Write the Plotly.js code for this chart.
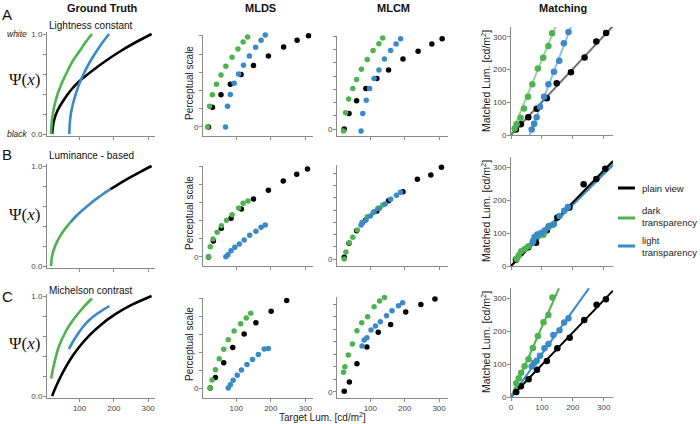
<!DOCTYPE html>
<html><head><meta charset="utf-8">
<script src="https://cdn.plot.ly/plotly-3.0.1.min.js"></script>
<style>html,body{margin:0;padding:0;background:#fff}#chart{width:700px;height:424px}</style>
</head><body><div id="chart"></div>
<script>
// ---------- Ground truth curves ----------
const gtA_black_x=[20,25,35,50,75,100,140,180,220,260,310];
const gtA_black_y=[0,0.13,0.23,0.32,0.44,0.53,0.64,0.74,0.83,0.91,1.0];
const gtA_green_x=[17,19,22,27,35,47,62,80,100,118,136];
const gtA_green_y=[0,0.13,0.2,0.29,0.39,0.5,0.61,0.73,0.83,0.92,1.0];
const gtA_blue_x=[70,72,75,80,88,99,113,130,150,168,186];
const gtA_blue_y=[0,0.13,0.21,0.29,0.39,0.5,0.61,0.72,0.83,0.92,1.0];

const gtB_green_x=[17,18,20,25,32,42,55,73];
const gtB_green_y=[0,0.06,0.10,0.165,0.226,0.292,0.36,0.437];
const gtB_blue_x=[73,90,110,130,150,170,190];
const gtB_blue_y=[0.437,0.5,0.563,0.621,0.674,0.723,0.768];
const gtB_black_x=[190,220,250,280,310];
const gtB_black_y=[0.768,0.832,0.892,0.947,1.0];

const gtC_black_x=[20,30,45,60,80,100,130,160,200,250,310];
const gtC_black_y=[0,0.084,0.195,0.292,0.402,0.495,0.611,0.706,0.808,0.908,1.0];
const gtC_green_x=[17,25,39,59,78,102,120,136];
const gtC_green_y=[0.175,0.31,0.49,0.64,0.745,0.85,0.92,0.975];
const gtC_blue_x=[69,80,95,112,130,150,170,187];
const gtC_blue_y=[0.47,0.54,0.62,0.70,0.765,0.82,0.865,0.90];

// ---------- MLDS ----------
const mldsA_black_x=[20,31,56,83,114,150,193,237,276,309];
const mldsA_black_y=[0,0.216,0.352,0.469,0.575,0.674,0.78,0.879,0.953,1.003];
const mldsA_green_x=[17,23,31,43,56,70,88,105,120,133];
const mldsA_green_y=[0,0.226,0.352,0.469,0.571,0.667,0.766,0.857,0.934,0.989];
const mldsA_blue_x=[69,75,83,94,107,121,138,156,172,184];
const mldsA_blue_y=[0,0.226,0.355,0.48,0.582,0.678,0.78,0.876,0.953,1.01];

const mldsB_black_x=[20,34,57,85,115,150,193,236,275,306];
const mldsB_black_y=[0,0.178,0.319,0.43,0.533,0.644,0.741,0.844,0.919,0.978];
const mldsB_green_x=[20,25,33,45,57,72,88,107,120,134];
const mldsB_green_y=[0.003,0.114,0.2,0.274,0.348,0.408,0.47,0.544,0.597,0.622];
const mldsB_blue_x=[70,76,85,96,109,123,139,157,172,184];
const mldsB_blue_y=[0.003,0.026,0.07,0.108,0.144,0.189,0.241,0.286,0.33,0.356];

const mldsC_black_x=[25,40,64,90,123,157,201,246,285,316];
const mldsC_black_y=[0,0.116,0.281,0.449,0.599,0.726,0.854,0.973,1.048,1.093];
const mldsC_green_x=[25,30,40,51,64,77,94,113,129,142];
const mldsC_green_y=[0,0.09,0.202,0.326,0.43,0.535,0.633,0.715,0.779,0.831];
const mldsC_blue_x=[77,83,91,103,115,131,147,164,181,193];
const mldsC_blue_y=[0,0.037,0.085,0.143,0.199,0.262,0.318,0.371,0.434,0.44];

// ---------- MLCM ----------
const mlcmA_black_x=[24,38,60,87,119,153,195,239,279,309];
const mlcmA_black_y=[0,1.18,2.13,3.06,3.81,4.46,5.29,5.86,6.41,6.82];
const mlcmA_green_x=[22,28,37,49,60,74,91,108,125,136];
const mlcmA_green_y=[-0.15,1.23,2.26,3.06,3.74,4.51,5.24,5.92,6.44,6.86];
const mlcmA_blue_x=[73,78,88,98,111,125,141,159,175,188];
const mlcmA_blue_y=[-0.15,1.18,2.18,3.06,3.81,4.46,5.29,5.92,6.41,6.82];

const mlcmB_black_x=[24,38,60,86,119,153,195,237,276,307];
const mlcmB_black_y=[0.14,1.28,2.3,3.19,3.92,4.76,5.5,6.51,6.86,7.49];
const mlcmB_green_x=[24,29,39,49,62,76,91,108,122,136];
const mlcmB_green_y=[0,0.57,1.33,1.77,2.37,3.0,3.46,3.78,4.14,4.41];
const mlcmB_blue_x=[73,78,87,100,111,127,143,159,176,188];
const mlcmB_blue_y=[2.78,2.97,3.19,3.51,3.86,4.14,4.49,4.88,5.2,5.45];

const mlcmC_black_x=[24,39,61,90,123,159,203,247,288,321];
const mlcmC_black_y=[0.03,0.78,2.24,3.58,4.75,5.39,6.38,6.99,7.42,7.79];
const mlcmC_green_x=[22,26,36,48,61,75,92,111,127,141];
const mlcmC_green_y=[1.55,2.0,2.94,3.82,4.88,5.52,6.0,6.8,7.26,7.55];
const mlcmC_blue_x=[76,82,90,102,115,129,147,163,182,194];
const mlcmC_blue_y=[3.66,4.14,4.32,4.94,5.26,5.6,6.08,6.48,6.88,7.12];

// ---------- Matching ----------
const matA_black_x=[16,32,56,83,116,148,194,238,276,308];
const matA_black_y=[17,33,54,80,112,158,192,237,286,312];
const matA_green_x=[12,18,31,42,55,69,87,104,121,133];
const matA_green_y=[20,33,53,81,117,155,203,236,272,311];
const matA_blue_x=[67,75,83,94,107,121,139,156,171,186];
const matA_blue_y=[17,34,54,86,117,155,193,227,280,315];
const fitA_black_x=[0,330], fitA_black_y=[0,333];
const fitA_green_x=[0,145], fitA_green_y=[0,333];
const fitA_blue_x=[60,195], fitA_blue_y=[0,333];

const matB_black_x=[16,32,56,81,116,150,189,235,276,305];
const matB_black_y=[20,39,57,71,109,148,178,249,265,296];
const matB_green_x=[18,25,33,45,57,72,88,105,120,134];
const matB_green_y=[22,32,45,52,60,78,92,95,118,125];
const matB_blue_x=[70,76,85,96,109,123,139,157,172,184];
const matB_blue_y=[72,88,96,100,108,122,128,152,168,180];
const fitB_black_x=[0,330], fitB_black_y=[0,320];
const fitB_green_x=[0,330], fitB_green_y=[0,314];
const fitB_blue_x=[0,330], fitB_blue_y=[0,307];

const matC_black_x=[17,32,57,84,116,150,190,237,277,307];
const matC_black_y=[15,33,54,83,109,148,180,234,280,297];
const matC_green_x=[17,25,33,44,57,71,87,105,121,134];
const matC_green_y=[42,57,74,93,115,149,185,227,249,302];
const matC_blue_x=[67,75,83,94,108,121,137,157,172,186];
const matC_blue_y=[93,103,110,125,148,161,188,203,226,239];
const fitC_black_x=[0,330], fitC_black_y=[0,323];
const fitC_green_x=[0,155], fitC_green_y=[0,330];
const fitC_blue_x=[0,252], fitC_blue_y=[0,330];

// ---------- text ----------
const colTitles=['Ground Truth','MLDS','MLCM','Matching'];
const rowLetters=['A','B','C'];
const rowSubtitles=['Lightness constant','Luminance - based','Michelson contrast'];
const legendLabels=['plain view','dark<br>transparency','light<br>transparency'];
const xTickVals=[100,200,300];
const matchTickVals=[0,100,200,300];

// ---------- styling / layout ----------
const W=700,H=424;
const C_BLACK='#000000', C_GREEN='#4db34f', C_BLUE='#3a89c9';
const FONT='Liberation Sans, Arial, sans-serif';
const colX=[[47,155],[203,313],[337,448],[511,613]];
const boxY=[
  [[32,136],[35,136],[36,136],[27,135]],
  [[164,268],[166,266],[165,266],[157,266]],
  [[294,398],[298,398],[297,398],[288,397]]
];
const yRanges=[
  [[-0.02,1.02],[-0.1,1.01],[-0.526,7.02],[0,330]],
  [[-0.02,1.02],[-0.1,1.01],[-0.57,7.68],[0,332]],
  [[-0.02,1.02],[-0.111,1.0],[-0.5,7.58],[0,331]]
];
const xRanges=[[5,320],[4,322],[3,326],[0,330]];

function sfx(r,c){const i=r*4+c+1;return i===1?'':String(i);}
const traces=[];
function lineTrace(r,c,x,y,color,width,shape,opacity){
  traces.push({x:x,y:y,xaxis:'x'+sfx(r,c),yaxis:'y'+sfx(r,c),mode:'lines',
    line:{color:color,width:width,shape:shape||'linear',smoothing:0.8},opacity:opacity==null?1:opacity,
    hoverinfo:'skip',showlegend:false});
}
function dotTrace(r,c,x,y,color,size){
  traces.push({x:x,y:y,xaxis:'x'+sfx(r,c),yaxis:'y'+sfx(r,c),mode:'markers',
    marker:{color:color,size:size,line:{width:0}},cliponaxis:false,hoverinfo:'skip',showlegend:false});
}

// ground truth
lineTrace(0,0,gtA_black_x,gtA_black_y,C_BLACK,2.6,'spline');
lineTrace(0,0,gtA_green_x,gtA_green_y,C_GREEN,2.6,'spline');
lineTrace(0,0,gtA_blue_x,gtA_blue_y,C_BLUE,2.6,'spline');
lineTrace(1,0,gtB_green_x,gtB_green_y,C_GREEN,2.6,'spline');
lineTrace(1,0,gtB_blue_x,gtB_blue_y,C_BLUE,2.6,'spline');
lineTrace(1,0,gtB_black_x,gtB_black_y,C_BLACK,2.6,'spline');
lineTrace(2,0,gtC_black_x,gtC_black_y,C_BLACK,2.6,'spline');
lineTrace(2,0,gtC_green_x,gtC_green_y,C_GREEN,2.6,'spline');
lineTrace(2,0,gtC_blue_x,gtC_blue_y,C_BLUE,2.6,'spline');

// MLDS
const DS=5.5;
dotTrace(0,1,mldsA_black_x,mldsA_black_y,C_BLACK,DS);
dotTrace(0,1,mldsA_green_x,mldsA_green_y,C_GREEN,DS);
dotTrace(0,1,mldsA_blue_x,mldsA_blue_y,C_BLUE,DS);
dotTrace(1,1,mldsB_black_x,mldsB_black_y,C_BLACK,DS);
dotTrace(1,1,mldsB_green_x,mldsB_green_y,C_GREEN,DS);
dotTrace(1,1,mldsB_blue_x,mldsB_blue_y,C_BLUE,DS);
dotTrace(2,1,mldsC_black_x,mldsC_black_y,C_BLACK,DS);
dotTrace(2,1,mldsC_green_x,mldsC_green_y,C_GREEN,DS);
dotTrace(2,1,mldsC_blue_x,mldsC_blue_y,C_BLUE,DS);
// MLCM
dotTrace(0,2,mlcmA_black_x,mlcmA_black_y,C_BLACK,DS);
dotTrace(0,2,mlcmA_green_x,mlcmA_green_y,C_GREEN,DS);
dotTrace(0,2,mlcmA_blue_x,mlcmA_blue_y,C_BLUE,DS);
dotTrace(1,2,mlcmB_black_x,mlcmB_black_y,C_BLACK,DS);
dotTrace(1,2,mlcmB_green_x,mlcmB_green_y,C_GREEN,DS);
dotTrace(1,2,mlcmB_blue_x,mlcmB_blue_y,C_BLUE,DS);
dotTrace(2,2,mlcmC_black_x,mlcmC_black_y,C_BLACK,DS);
dotTrace(2,2,mlcmC_green_x,mlcmC_green_y,C_GREEN,DS);
dotTrace(2,2,mlcmC_blue_x,mlcmC_blue_y,C_BLUE,DS);
// Matching
const MS=6.5;
lineTrace(0,3,fitA_black_x,fitA_black_y,C_BLACK,2,'linear',0.55);
lineTrace(0,3,fitA_green_x,fitA_green_y,C_GREEN,2,'linear',0.55);
lineTrace(0,3,fitA_blue_x,fitA_blue_y,C_BLUE,2,'linear',0.55);
dotTrace(0,3,matA_black_x,matA_black_y,C_BLACK,MS);
dotTrace(0,3,matA_green_x,matA_green_y,C_GREEN,MS);
dotTrace(0,3,matA_blue_x,matA_blue_y,C_BLUE,MS);
lineTrace(1,3,fitB_green_x,fitB_green_y,C_GREEN,2,'linear',1);
lineTrace(1,3,fitB_blue_x,fitB_blue_y,C_BLUE,2,'linear',1);
lineTrace(1,3,fitB_black_x,fitB_black_y,C_BLACK,2,'linear',1);
dotTrace(1,3,matB_black_x,matB_black_y,C_BLACK,MS);
dotTrace(1,3,matB_green_x,matB_green_y,C_GREEN,MS);
dotTrace(1,3,matB_blue_x,matB_blue_y,C_BLUE,MS);
lineTrace(2,3,fitC_black_x,fitC_black_y,C_BLACK,2,'linear',1);
lineTrace(2,3,fitC_green_x,fitC_green_y,C_GREEN,2,'linear',1);
lineTrace(2,3,fitC_blue_x,fitC_blue_y,C_BLUE,2,'linear',1);
dotTrace(2,3,matC_black_x,matC_black_y,C_BLACK,MS);
dotTrace(2,3,matC_green_x,matC_green_y,C_GREEN,MS);
dotTrace(2,3,matC_blue_x,matC_blue_y,C_BLUE,MS);

const layout={width:W,height:H,margin:{l:0,r:0,t:0,b:0},paper_bgcolor:'#fff',plot_bgcolor:'rgba(0,0,0,0)',
  showlegend:false,font:{family:FONT,color:'#333',size:8},annotations:[],shapes:[]};

const baseAx={showgrid:false,zeroline:false,showline:true,linecolor:'#8a8a8a',linewidth:1,
  ticks:'outside',ticklen:3,tickcolor:'#8a8a8a',tickwidth:1,fixedrange:true,ticklabelstandoff:-1,
  tickmode:'array',tickfont:{family:FONT,size:8,color:'#444'}};
function minorTicks(vals){return {tickmode:'array',tickvals:vals,ticks:'outside',ticklen:3,tickcolor:'#8a8a8a',tickwidth:1,showgrid:false};}

for(let r=0;r<3;r++){for(let c=0;c<4;c++){
  const s=sfx(r,c);
  const xa=Object.assign({},baseAx,{domain:[colX[c][0]/W,colX[c][1]/W],anchor:'y'+s,range:xRanges[c]});
  const xv=(c===3)?matchTickVals:xTickVals;
  if(r===2){xa.tickvals=xv;}
  else{xa.tickvals=[];xa.showticklabels=false;xa.minor=minorTicks(xv);}
  const [top,bot]=boxY[r][c];
  const ya=Object.assign({},baseAx,{domain:[1-bot/H,1-top/H],anchor:'x'+s,range:yRanges[r][c]});
  if(c===0){ya.tickvals=[0,1.0];ya.ticktext=['0.0','1.0'];ya.minor=minorTicks([0.2,0.4,0.6,0.8]);}
  else if(c===1){ya.tickvals=[0];ya.ticktext=['0'];ya.minor=minorTicks([0.2,0.4,0.6,0.8,1.0]);}
  else if(c===2){ya.tickvals=[0];ya.ticktext=['0'];ya.minor=minorTicks([1,2,3,4,5,6,7]);}
  else {ya.tickvals=matchTickVals;}
  layout['xaxis'+s]=xa; layout['yaxis'+s]=ya;
}}

function ann(text,x,y,opts){
  layout.annotations.push(Object.assign({text:text,x:x/W,y:1-y/H,xref:'paper',yref:'paper',
    showarrow:false,xanchor:'center',yanchor:'middle',font:{family:FONT,size:10,color:'#111'}},opts||{}));
}
// column titles
const colTitleX=[102,260,393,563];
colTitles.forEach((t,i)=>ann('<b>'+t+'</b>',colTitleX[i],8,{font:{family:FONT,size:11,color:'#111'}}));
// row letters and subtitles
const rowLetterY=[15,154,296];
rowLetters.forEach((t,i)=>ann(t,7,rowLetterY[i],{font:{family:FONT,size:15,color:'#111'}}));
const rowSubY=[25,155,290];
rowSubtitles.forEach((t,i)=>ann(t,91,rowSubY[i],{font:{family:FONT,size:10,color:'#111'}}));
// Psi labels
const psiY=[80,214,343];
psiY.forEach(y=>ann('Ψ(<i>x</i>)',24,y,{font:{family:'Liberation Serif, DejaVu Serif, serif',size:17,color:'#111'}}));
ann('<i>white</i>',17,34,{font:{family:FONT,size:8.5,color:'#222'}});
ann('<i>black</i>',17,134,{font:{family:FONT,size:8.5,color:'#222'}});
// axis titles
const percY=[83,213,344];
percY.forEach(y=>ann('Perceptual scale',189,y,{textangle:-90,font:{family:FONT,size:10,color:'#222'}}));
const matchY=[81,211,342];
matchY.forEach(y=>ann('Matched Lum. [cd/m<sup>2</sup>]',485,y,{textangle:-90,font:{family:FONT,size:10.5,color:'#222'}}));
ann('Target Lum. [cd/m<sup>2</sup>]',322,417,{font:{family:FONT,size:10,color:'#222'}});

// legend (shapes + labels)
const legColors=[C_BLACK,C_GREEN,C_BLUE];
const legLineY=[188,218,246];
const legTextY=[188,216,246];
legendLabels.forEach((t,i)=>{
  layout.shapes.push({type:'line',xref:'paper',yref:'paper',x0:618/W,x1:635/W,y0:1-legLineY[i]/H,y1:1-legLineY[i]/H,
    line:{color:legColors[i],width:3}});
  ann(t,640,legTextY[i],{xanchor:'left',align:'left',font:{family:FONT,size:9.5,color:'#222'}});
});

Plotly.newPlot('chart',traces,layout,{displayModeBar:false,staticPlot:true});
</script></body></html>
